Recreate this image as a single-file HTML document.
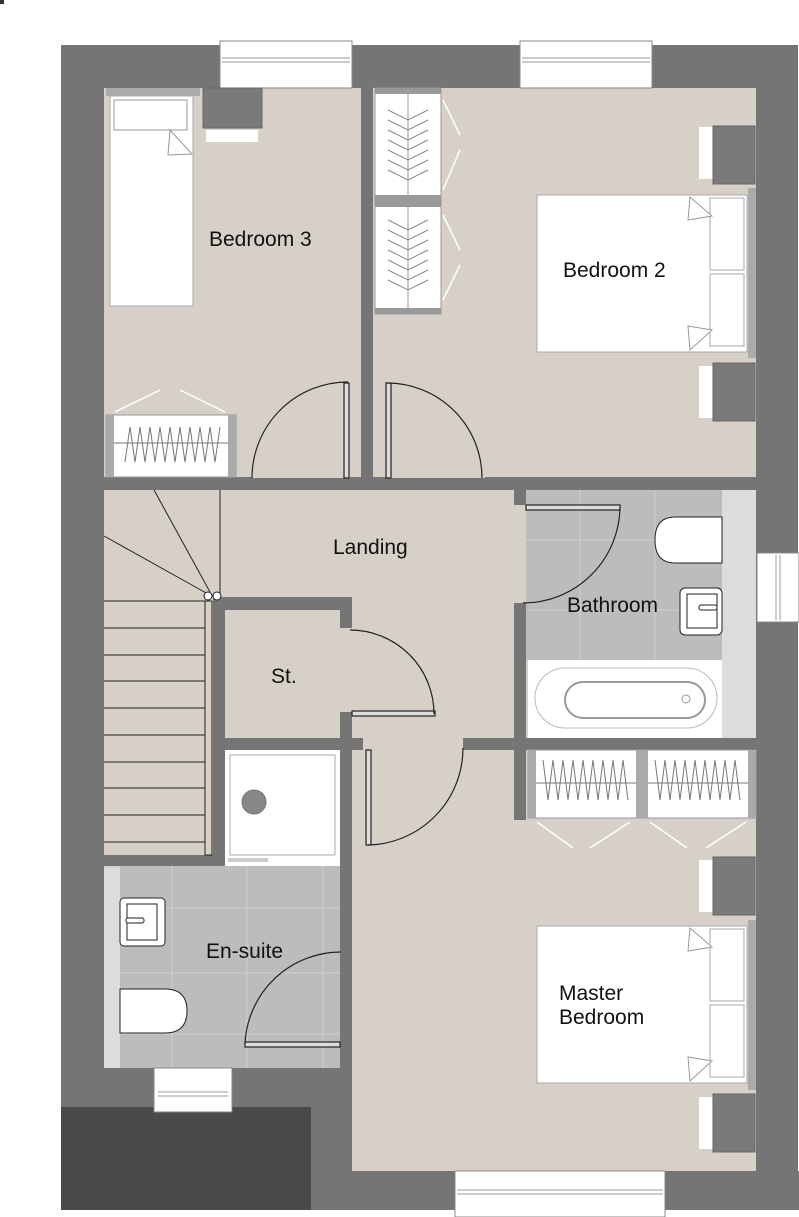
<!DOCTYPE html>
<html><head><meta charset="utf-8"><style>
html,body{margin:0;padding:0;background:#fff;}
svg{display:block;}
text{font-family:"Liberation Sans",sans-serif;font-size:21px;fill:#111;}
</style></head><body>
<svg width="799" height="1217" viewBox="0 0 799 1217" xmlns="http://www.w3.org/2000/svg">
<rect x="0" y="0" width="4" height="4" fill="#333"/>
<rect x="61" y="45" width="737" height="1165" fill="#757575"/>
<rect x="61" y="1107" width="250" height="103" fill="#4a4a4a"/>
<rect x="311" y="1171" width="488" height="46" fill="#fff"/>
<rect x="311" y="1171" width="488" height="39" fill="#757575"/>
<g fill="#d7d0c8">
<rect x="104" y="88" width="652" height="390"/>
<rect x="104" y="490" width="652" height="248"/>
<rect x="104" y="490" width="109" height="365"/>
<rect x="352" y="738" width="111" height="12"/>
<rect x="352" y="750" width="404" height="421"/>
<rect x="104" y="750" width="236" height="318"/>
</g>
<rect x="526" y="490" width="196" height="170" fill="#bdbcba"/>
<rect x="120" y="866" width="220" height="202" fill="#bdbcba"/>
<g stroke="#cfcfcf" stroke-width="1">
<line x1="580" y1="490" x2="580" y2="660"/><line x1="655" y1="490" x2="655" y2="660"/>
<line x1="526" y1="540" x2="722" y2="540"/><line x1="526" y1="610" x2="722" y2="610"/>
<line x1="172" y1="866" x2="172" y2="1068"/><line x1="247" y1="866" x2="247" y2="1068"/><line x1="323" y1="866" x2="323" y2="1068"/>
<line x1="120" y1="908" x2="340" y2="908"/><line x1="120" y1="973" x2="340" y2="973"/><line x1="120" y1="1034" x2="340" y2="1034"/>
</g>
<rect x="722" y="490" width="34" height="248" fill="#dcdcdc"/>
<rect x="104" y="868" width="16" height="200" fill="#dcdcdc"/>
<g fill="#757575">
<rect x="361" y="45" width="12" height="433"/>
<rect x="104" y="477" width="148" height="13"/>
<rect x="350" y="477" width="35" height="13"/>
<rect x="485" y="477" width="271" height="13"/>
<rect x="213" y="597" width="12" height="269"/>
<rect x="213" y="597" width="139" height="13"/>
<rect x="340" y="597" width="12" height="31"/>
<rect x="225" y="738" width="138" height="12"/>
<rect x="340" y="712" width="12" height="238"/>
<rect x="340" y="1045" width="12" height="126"/>
<rect x="104" y="855" width="121" height="11"/>
<rect x="514" y="490" width="12" height="15"/>
<rect x="514" y="603" width="12" height="217"/>
<rect x="463" y="738" width="293" height="12"/>
<rect x="104" y="1068" width="236" height="39"/>
<rect x="61" y="1068" width="43" height="39"/>
</g>
<g fill="#fff" stroke="#888" stroke-width="1">
<rect x="220" y="41" width="132" height="47"/>
<rect x="520" y="41" width="132" height="47"/>
<rect x="757" y="553" width="42" height="69"/>
<rect x="455" y="1171" width="210" height="46"/>
<rect x="154" y="1068" width="78" height="44"/>
</g>
<g stroke="#999" stroke-width="1" fill="none">
<line x1="222" y1="58" x2="350" y2="58"/><line x1="222" y1="62" x2="350" y2="62"/>
<line x1="522" y1="58" x2="650" y2="58"/><line x1="522" y1="62" x2="650" y2="62"/>
<line x1="776" y1="555" x2="776" y2="620"/><line x1="780" y1="555" x2="780" y2="620"/>
<line x1="457" y1="1190" x2="663" y2="1190"/><line x1="457" y1="1194" x2="663" y2="1194"/>
<line x1="158" y1="1092" x2="228" y2="1092"/><line x1="158" y1="1096" x2="228" y2="1096"/>
</g>
<g stroke="#222" stroke-width="1" fill="none">
<line x1="220" y1="490" x2="220" y2="597"/>
<line x1="154" y1="490" x2="210" y2="592"/>
<line x1="104" y1="536" x2="208" y2="594"/>
<line x1="104" y1="601" x2="205" y2="601"/><line x1="104" y1="628" x2="205" y2="628"/>
<line x1="104" y1="655" x2="205" y2="655"/><line x1="104" y1="681" x2="205" y2="681"/>
<line x1="104" y1="708" x2="205" y2="708"/><line x1="104" y1="735" x2="205" y2="735"/>
<line x1="104" y1="762" x2="205" y2="762"/><line x1="104" y1="788" x2="205" y2="788"/>
<line x1="104" y1="815" x2="205" y2="815"/><line x1="104" y1="842" x2="205" y2="842"/>
<rect x="205" y="601" width="7" height="254"/>
<circle cx="208" cy="596" r="4" fill="#fff"/><circle cx="217" cy="596" r="4" fill="#fff"/>
</g>
<g stroke="#222" stroke-width="1.2" fill="none">
<rect x="344" y="383" width="5" height="95" fill="#ddd"/>
<path d="M252 478 A96 96 0 0 1 348 382"/>
<rect x="386" y="383" width="5" height="95" fill="#ddd"/>
<path d="M482 478 A95 95 0 0 0 387 383"/>
<rect x="352" y="711" width="83" height="5" fill="#ddd"/>
<path d="M350 630 A84 84 0 0 1 434 714"/>
<rect x="366" y="750" width="5" height="95" fill="#ddd"/>
<path d="M368 845 A97 97 0 0 0 463 748"/>
<rect x="526" y="505" width="94" height="5" fill="#ddd"/>
<path d="M620 507 A97 97 0 0 1 523 603"/>
<rect x="245" y="1042" width="95" height="5" fill="#ddd"/>
<path d="M245 1044 A96 96 0 0 1 341 952"/>
</g>
<rect x="106" y="88" width="94" height="8" fill="#aaa"/>
<rect x="110" y="96" width="83" height="210" fill="#fff" stroke="#aaa"/>
<rect x="114" y="100" width="73" height="30" fill="#fff" stroke="#999"/>
<path d="M170 130 L192 154 L168 155 Z" fill="#fff" stroke="#999"/>
<rect x="203" y="88" width="59" height="40" fill="#7a7a7a" stroke="#666"/>
<rect x="206" y="130" width="52" height="12" fill="#fff"/>
<rect x="106" y="415" width="130" height="62" fill="#fff" stroke="#999"/>
<rect x="106" y="415" width="8" height="62" fill="#aaa"/><rect x="228" y="415" width="8" height="62" fill="#aaa"/>
<g stroke="#777" stroke-width="1" fill="none">
<line x1="114" y1="443" x2="228" y2="443"/>
<path d="M125 462 l5 -35 l5 35 l5 -35 l5 35 l5 -35 l5 35 l5 -35 l5 35 l5 -35 l5 35 l5 -35 l5 35 l5 -35 l5 35 l5 -35 l5 35 l5 -35 l5 35 l5 -35"/>
</g>
<g stroke="#fff" stroke-width="1.5"><line x1="115" y1="412" x2="160" y2="390"/><line x1="180" y1="390" x2="225" y2="412"/></g>
<rect x="375" y="88" width="66" height="226" fill="#fff" stroke="#999"/>
<rect x="375" y="195" width="66" height="12" fill="#999"/>
<rect x="375" y="88" width="66" height="6" fill="#999"/><rect x="375" y="308" width="66" height="6" fill="#999"/>
<line x1="408" y1="94" x2="408" y2="308" stroke="#999"/>
<path d="M388 110 l20 10 l20 -10 M388 120 l20 10 l20 -10 M388 130 l20 10 l20 -10 M388 140 l20 10 l20 -10 M388 150 l20 10 l20 -10 M388 160 l20 10 l20 -10 M388 170 l20 10 l20 -10 M388 220 l20 10 l20 -10 M388 230 l20 10 l20 -10 M388 240 l20 10 l20 -10 M388 250 l20 10 l20 -10 M388 260 l20 10 l20 -10 M388 270 l20 10 l20 -10 M388 280 l20 10 l20 -10" stroke="#888" fill="none"/>
<g stroke="#fff" stroke-width="1.5"><line x1="443" y1="100" x2="460" y2="135"/><line x1="443" y1="190" x2="460" y2="150"/><line x1="443" y1="215" x2="460" y2="250"/><line x1="443" y1="300" x2="460" y2="265"/></g>
<rect x="699" y="127" width="14" height="52" fill="#fff"/><rect x="713" y="126" width="42" height="58" fill="#7a7a7a" stroke="#666"/>
<rect x="699" y="366" width="14" height="52" fill="#fff"/><rect x="713" y="363" width="42" height="58" fill="#7a7a7a" stroke="#666"/>
<rect x="748" y="188" width="8" height="170" fill="#aaa"/>
<rect x="537" y="195" width="210" height="157" fill="#fff" stroke="#aaa"/>
<rect x="710" y="198" width="34" height="72" fill="#fff" stroke="#aaa"/><rect x="710" y="274" width="34" height="72" fill="#fff" stroke="#aaa"/>
<path d="M690 197 L712 216 L688 220 Z M712 330 L690 350 L688 326 Z" fill="#fff" stroke="#999"/>
<path d="M722 517 L722 563 L675 563 Q655 563 655 540 Q655 517 675 517 Z" fill="#fff" stroke="#222"/>
<rect x="680" y="588" width="42" height="47" rx="5" fill="#fff" stroke="#222"/>
<rect x="687" y="594" width="30" height="34" fill="#fff" stroke="#222"/>
<rect x="699" y="605" width="18" height="5" rx="2" fill="#fff" stroke="#222"/>
<rect x="528" y="660" width="194" height="78" fill="#fff"/>
<rect x="535" y="668" width="182" height="60" rx="30" fill="none" stroke="#bbb"/>
<rect x="565" y="682" width="140" height="36" rx="18" fill="none" stroke="#999" stroke-width="2"/>
<circle cx="686" cy="699" r="4" fill="none" stroke="#999"/>
<rect x="528" y="750" width="228" height="68" fill="#fff" stroke="#999"/>
<rect x="528" y="750" width="8" height="68" fill="#aaa"/><rect x="636" y="750" width="12" height="68" fill="#aaa"/><rect x="748" y="750" width="8" height="68" fill="#aaa"/>
<g stroke="#777" fill="none">
<line x1="536" y1="783" x2="636" y2="783"/><line x1="648" y1="783" x2="748" y2="783"/>
<path d="M543 760 l5 40 l5 -40 l5 40 l5 -40 l5 40 l5 -40 l5 40 l5 -40 l5 40 l5 -40 l5 40 l5 -40 l5 40 l5 -40 l5 40 l5 -40 l5 40"/>
<path d="M655 760 l5 40 l5 -40 l5 40 l5 -40 l5 40 l5 -40 l5 40 l5 -40 l5 40 l5 -40 l5 40 l5 -40 l5 40 l5 -40 l5 40 l5 -40 l5 40"/>
</g>
<g stroke="#fff" stroke-width="1.5"><line x1="537" y1="822" x2="573" y2="848"/><line x1="630" y1="822" x2="590" y2="848"/><line x1="650" y1="822" x2="687" y2="848"/><line x1="746" y1="822" x2="706" y2="848"/></g>
<rect x="699" y="860" width="14" height="52" fill="#fff"/><rect x="713" y="857" width="42" height="58" fill="#7a7a7a" stroke="#666"/>
<rect x="699" y="1097" width="14" height="52" fill="#fff"/><rect x="713" y="1094" width="42" height="58" fill="#7a7a7a" stroke="#666"/>
<rect x="748" y="920" width="8" height="170" fill="#aaa"/>
<rect x="537" y="926" width="210" height="157" fill="#fff" stroke="#aaa"/>
<rect x="710" y="929" width="34" height="72" fill="#fff" stroke="#aaa"/><rect x="710" y="1005" width="34" height="72" fill="#fff" stroke="#aaa"/>
<path d="M690 928 L712 947 L688 951 Z M712 1061 L690 1081 L688 1057 Z" fill="#fff" stroke="#999"/>
<rect x="225" y="750" width="115" height="116" fill="#fff"/>
<rect x="230" y="755" width="105" height="100" fill="none" stroke="#aaa"/>
<rect x="228" y="858" width="40" height="4" fill="#ccc"/>
<circle cx="254" cy="802" r="12" fill="#888" stroke="#777"/>
<rect x="120" y="898" width="45" height="48" rx="4" fill="#fff" stroke="#222"/>
<rect x="127" y="904" width="30" height="36" fill="#fff" stroke="#222"/>
<rect x="126" y="918" width="18" height="5" rx="2" fill="#fff" stroke="#222"/>
<path d="M120 989 L120 1033 L165 1033 Q187 1033 187 1011 Q187 989 165 989 Z" fill="#fff" stroke="#222"/>
<text x="209" y="246">Bedroom 3</text>
<text x="563" y="277">Bedroom 2</text>
<text x="333" y="554">Landing</text>
<text x="567" y="612">Bathroom</text>
<text x="271" y="683">St.</text>
<text x="206" y="958">En-suite</text>
<text x="559" y="1000">Master</text>
<text x="559" y="1024">Bedroom</text>
</svg>
</body></html>
